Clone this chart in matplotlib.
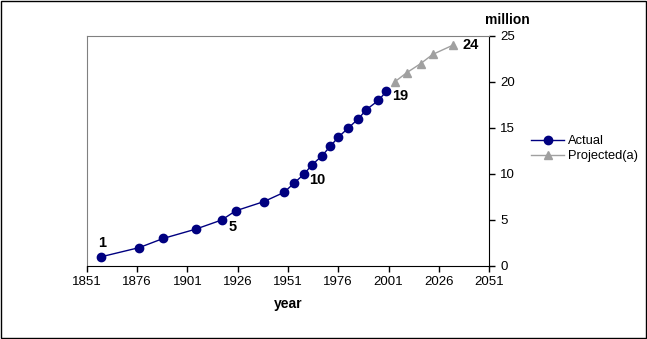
import numpy as np
import matplotlib.pyplot as plt
from matplotlib.patches import Rectangle

plt.rcParams['font.family'] = ['Liberation Sans', 'DejaVu Sans']

# 人口数据（百万）
actual_year = [1858, 1877, 1889, 1905, 1918, 1925, 1939, 1949, 1954, 1959,
               1963, 1968, 1972, 1976, 1981, 1986, 1990, 1996, 2000]
actual_pop = [1, 2, 3, 4, 5, 6, 7, 8, 9, 10, 11, 12, 13, 14, 15, 16, 17, 18, 19]
proj_year = [2004, 2010, 2017, 2023, 2033]
proj_pop = [20, 21, 22, 23, 24]

# 标注的数据点及偏移(像素)
label_vals = [1, 5, 10, 19, 24]
label_offsets = [(1, 14), (11, -7), (13, -6), (14, -5), (18, 0)]

x_ticks = [1851, 1876, 1901, 1926, 1951, 1976, 2001, 2026, 2051]
y_ticks = [0, 5, 10, 15, 20, 25]

fig = plt.figure(figsize=(6.47, 3.39), dpi=100)
ax = fig.add_axes([87 / 647, 1 - 266 / 339, 402 / 647, 230 / 339])

navy = '#000080'
grey = '#a0a0a0'
ax.plot(actual_year, actual_pop, color=navy, lw=1, marker='o', ms=6, label='Actual')
ax.plot(proj_year, proj_pop, color=grey, lw=1, marker='^', ms=6, label='Projected(a)')

# 数据标签
all_x = actual_year + proj_year
all_y = actual_pop + proj_pop
for v, off in zip(label_vals, label_offsets):
    i = all_y.index(v)
    ax.annotate(str(v), (all_x[i], all_y[i]), xytext=off, textcoords='offset pixels',
                ha='center', va='center', fontsize=10.5, fontweight='bold')

ax.set_xlim(1851, 2051)
ax.set_ylim(0, 25)
ax.set_xticks(x_ticks)
ax.set_yticks(y_ticks)
ax.yaxis.tick_right()
ax.tick_params(axis='both', direction='out', length=4, width=1, labelsize=9.5, pad=3)
ax.tick_params(axis='y', pad=4)

for s in ['left', 'top']:
    ax.spines[s].set_color('#808080')
for s in ['right', 'bottom']:
    ax.spines[s].set_color('black')

ax.set_xlabel('year', fontsize=10, fontweight='bold', labelpad=7)
fig.text(507 / 647, 1 - 20 / 339, 'million', ha='center', va='center',
         fontsize=10, fontweight='bold')

ax.legend(loc='center left', bbox_to_anchor=(1.075, 0.51), frameon=False,
          fontsize=9.3, handlelength=2.6, handletextpad=0.3, labelspacing=0.25)

# 外框
fig.patches.append(Rectangle((0.001, 0.002), 0.997, 0.995, transform=fig.transFigure,
                             fill=False, edgecolor='black', lw=1))

plt.savefig('out.png', dpi=100)
